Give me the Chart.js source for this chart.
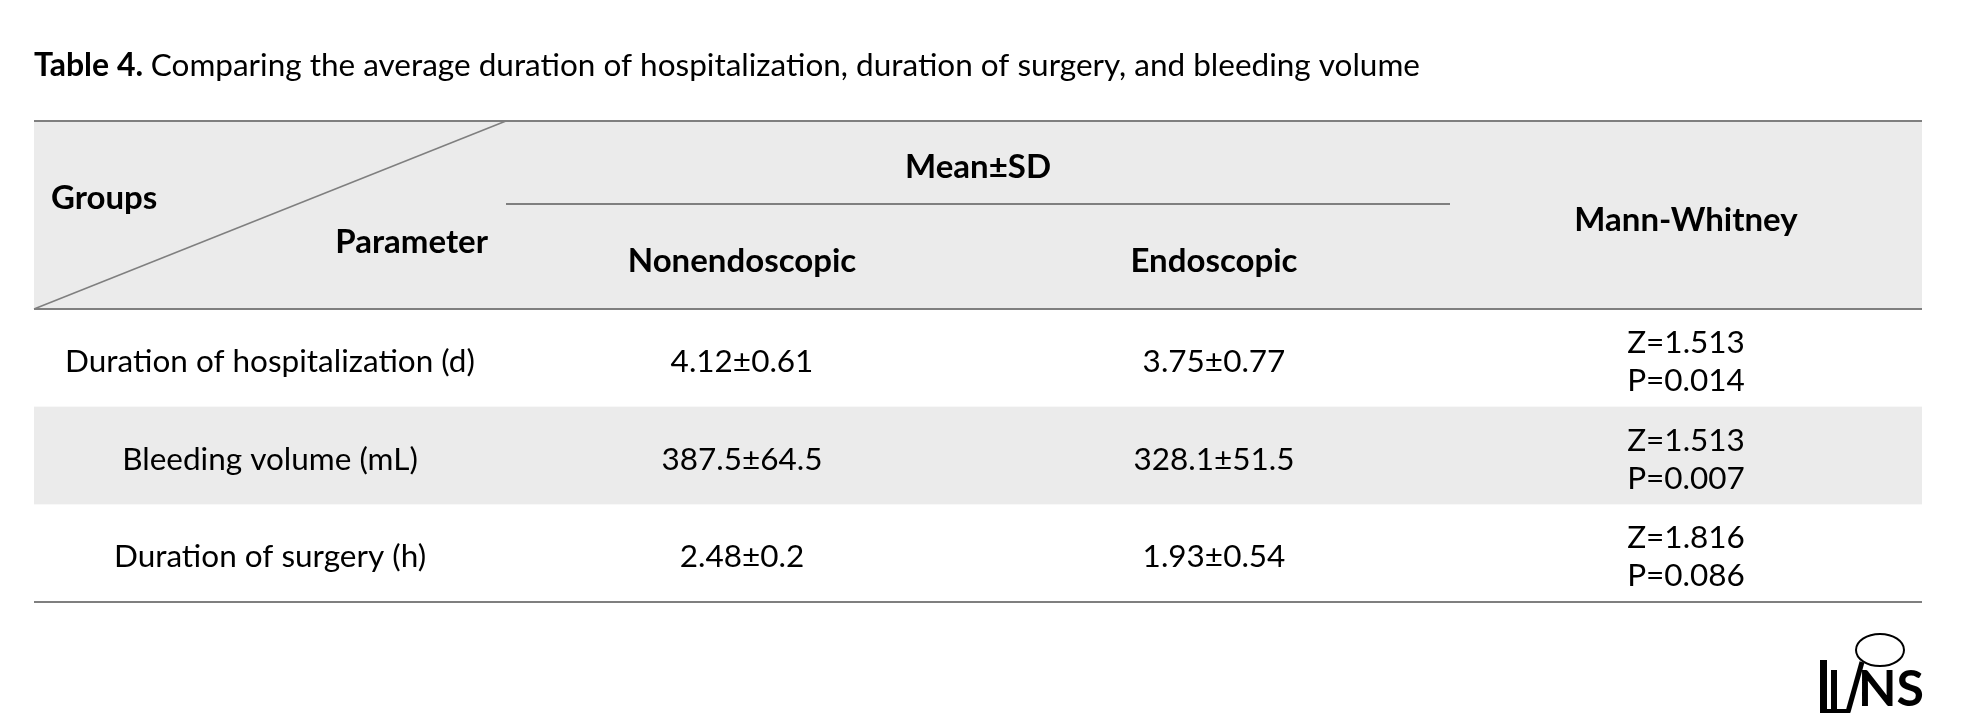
<!DOCTYPE html>
<html>
<head>
<meta charset="utf-8">
<script src="https://cdn.jsdelivr.net/npm/chart.js@4"></script>
<style>
  body { margin: 0; background: #fff; }
  #wrap { width: 1980px; height: 722px; position: relative; }
</style>
</head>
<body>
<div id="wrap"><canvas id="chart"></canvas></div>
<script>
// table content
const columns = ['Parameter', 'Nonendoscopic', 'Endoscopic', 'Mann-Whitney'];
const rows = ['Duration of hospitalization (d)', 'Bleeding volume (mL)', 'Duration of surgery (h)'];
const nonendoscopic = ['4.12±0.61', '387.5±64.5', '2.48±0.2'];
const endoscopic = ['3.75±0.77', '328.1±51.5', '1.93±0.54'];
const zValues = ['Z=1.513', 'Z=1.513', 'Z=1.816'];
const pValues = ['P=0.014', 'P=0.007', 'P=0.086'];

const FONT = 'Lato, "Open Sans", sans-serif';
const LINE = '#7f7f7f';
const SHADE = '#ebebeb';

const tablePlugin = {
    id: 'table',
    beforeDraw(chart) {
        const ctx = chart.ctx;
        const x = chart.scales.x, y = chart.scales.y;
        const left = chart.chartArea.left, right = chart.chartArea.right;
        const top = chart.chartArea.top, bottom = chart.chartArea.bottom;
        const headTop = 121;
        const rowH = (bottom - top) / rows.length;
        const colW = (right - left) / columns.length;

        ctx.save();
        // title
        ctx.fillStyle = '#000';
        ctx.textBaseline = 'middle';
        ctx.textAlign = 'left';
        ctx.font = 'bold 32px ' + FONT;
        ctx.fillText('Table 4.', 34, 66);
        const w = ctx.measureText('Table 4. ').width;
        ctx.font = '31.5px ' + FONT;
        ctx.fillText('Comparing the average duration of hospitalization, duration of surgery, and bleeding volume', 34 + w, 66);

        // header background + shaded row
        ctx.fillStyle = SHADE;
        ctx.fillRect(left, headTop, right - left, top - headTop);
        ctx.fillRect(left, top + rowH, right - left, rowH);

        // lines
        ctx.strokeStyle = LINE;
        ctx.lineWidth = 2;
        ctx.beginPath();
        ctx.moveTo(left, headTop); ctx.lineTo(right, headTop);
        ctx.moveTo(left, top); ctx.lineTo(right, top);
        ctx.moveTo(left, bottom); ctx.lineTo(right, bottom);
        ctx.moveTo(left + colW, 204); ctx.lineTo(left + 3 * colW, 204);
        ctx.stroke();
        ctx.lineWidth = 1.5;
        ctx.beginPath();
        ctx.moveTo(left + colW, headTop); ctx.lineTo(left, top);
        ctx.stroke();

        // header text
        ctx.fillStyle = '#000';
        ctx.font = 'bold 33px ' + FONT;
        ctx.textAlign = 'left';
        ctx.fillText('Groups', 51, 198);
        ctx.textAlign = 'right';
        ctx.fillText(columns[0], left + colW - 18, 242);
        ctx.textAlign = 'center';
        ctx.fillText('Mean±SD', (x.getPixelForValue(1) + x.getPixelForValue(2)) / 2, 167);
        ctx.fillText(columns[1], x.getPixelForValue(1), 261);
        ctx.fillText(columns[2], x.getPixelForValue(2), 261);
        ctx.fillText(columns[3], x.getPixelForValue(3), 220);

        // body
        ctx.font = '31.5px ' + FONT;
        rows.forEach((r, i) => {
            const cy = y.getPixelForValue(i) + 4;
            ctx.fillText(r, x.getPixelForValue(0), cy);
            ctx.fillText(nonendoscopic[i], x.getPixelForValue(1), cy);
            ctx.fillText(endoscopic[i], x.getPixelForValue(2), cy);
            ctx.fillText(zValues[i], x.getPixelForValue(3), cy - 19);
            ctx.fillText(pValues[i], x.getPixelForValue(3), cy + 19);
        });

        // logo
        ctx.font = 'bold 50px ' + FONT;
        ctx.textAlign = 'left';
        ctx.fillText('NS', 1858, 690);
        ctx.fillRect(1820, 660, 7, 52);
        ctx.fillRect(1831, 670, 6, 42);
        ctx.fillRect(1820, 709, 30, 4);
        ctx.strokeStyle = '#000';
        ctx.lineWidth = 2;
        ctx.beginPath();
        ctx.ellipse(1880, 650, 24, 16, 0, 0, Math.PI * 2);
        ctx.stroke();
        ctx.lineWidth = 5;
        ctx.beginPath();
        ctx.moveTo(1862, 662); ctx.lineTo(1848, 712);
        ctx.stroke();
        ctx.restore();
    }
};

new Chart(document.getElementById('chart'), {
    type: 'scatter',
    data: { datasets: [] },
    plugins: [tablePlugin],
    options: {
        responsive: true,
        maintainAspectRatio: false,
        animation: false,
        layout: { padding: { left: 34, right: 58, top: 309, bottom: 120 } },
        plugins: { legend: { display: false }, tooltip: { enabled: false } },
        scales: {
            x: { type: 'category', labels: columns, offset: true, display: false },
            y: { type: 'category', labels: rows, offset: true, display: false }
        }
    }
});
</script>
</body>
</html>
